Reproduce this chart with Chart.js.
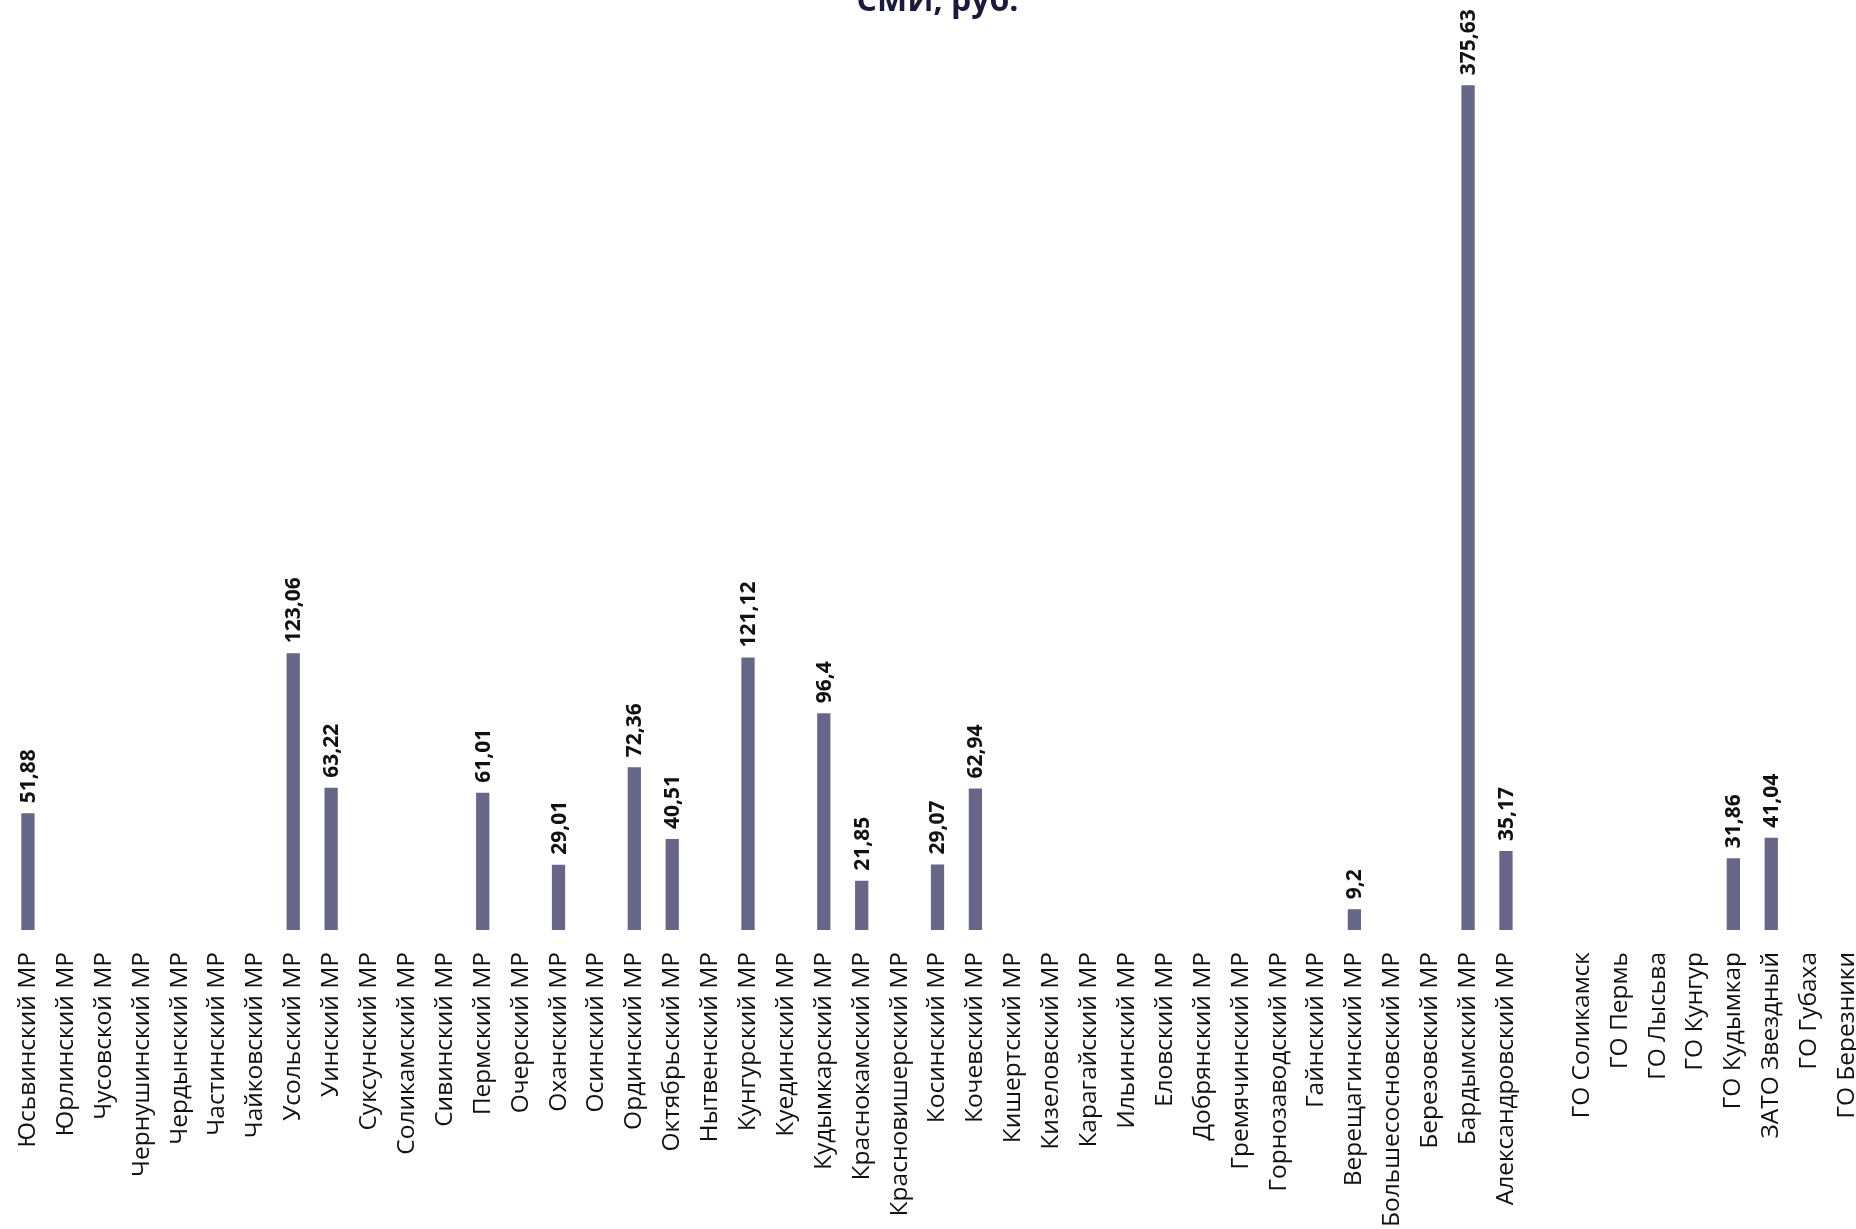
<!DOCTYPE html>
<html lang="ru">
<head>
<meta charset="utf-8">
<title>СМИ, руб.</title>
<script src="https://cdn.jsdelivr.net/npm/chart.js@4/dist/chart.umd.min.js"></script>
<style>
  html, body { margin: 0; padding: 0; background: #ffffff; overflow: hidden; }
  body { width: 1856px; height: 1229px; position: relative; }
  #wrap { position: absolute; left: 0; top: -30px; width: 1880px; height: 1274px; }
</style>
</head>
<body>
<div id="wrap"><canvas id="chart"></canvas></div>
<script>
const districts = [
  "Юсьвинский МР", "Юрлинский МР", "Чусовской МР", "Чернушинский МР",
  "Чердынский МР", "Частинский МР", "Чайковский МР", "Усольский МР",
  "Уинский МР", "Суксунский МР", "Соликамский МР", "Сивинский МР",
  "Пермский МР", "Очерский МР", "Оханский МР", "Осинский МР",
  "Ординский МР", "Октябрьский МР", "Нытвенский МР", "Кунгурский МР",
  "Куединский МР", "Кудымкарский МР", "Краснокамский МР", "Красновишерский МР",
  "Косинский МР", "Кочевский МР", "Кишертский МР", "Кизеловский МР",
  "Карагайский МР", "Ильинский МР", "Еловский МР", "Добрянский МР",
  "Гремячинский МР", "Горнозаводский МР", "Гайнский МР", "Верещагинский МР",
  "Большесосновский МР", "Березовский МР", "Бардымский МР", "Александровский МР",
  "",
  "ГО Соликамск", "ГО Пермь", "ГО Лысьва", "ГО Кунгур",
  "ГО Кудымкар", "ЗАТО Звездный", "ГО Губаха", "ГО Березники",
];

// руб., null = no bar
const costs = [
  51.88, null, null, null,
  null, null, null, 123.06,
  63.22, null, null, null,
  61.01, null, 29.01, null,
  72.36, 40.51, null, 121.12,
  null, 96.4, 21.85, null,
  29.07, 62.94, null, null,
  null, null, null, null,
  null, null, null, 9.2,
  null, null, 375.63, 35.17,
  null,
  null, null, null, null,
  31.86, 41.04, null, null,
];

const titleText = "СМИ, руб.";

const barLabels = {
  id: "barLabels",
  afterDatasetsDraw(chart) {
    const { ctx } = chart;
    const meta = chart.getDatasetMeta(0);
    ctx.save();
    ctx.font = "bold 21px 'Open Sans', sans-serif";
    ctx.fillStyle = "#111111";
    ctx.textAlign = "left";
    ctx.textBaseline = "middle";
    meta.data.forEach((bar, i) => {
      const value = costs[i];
      if (value === null) {
        return;
      }
      ctx.save();
      ctx.translate(bar.x, bar.y - 10);
      ctx.rotate(-Math.PI / 2);
      ctx.fillText(String(value).replace(".", ","), 0, 1);
      ctx.restore();
    });
    ctx.restore();
  },
};

new Chart(document.getElementById("chart"), {
  type: "bar",
  data: {
    labels: districts,
    datasets: [
      {
        data: costs,
        backgroundColor: "#676689",
        barPercentage: 0.35,
        categoryPercentage: 1,
      },
    ],
  },
  options: {
    animation: false,
    responsive: true,
    maintainAspectRatio: false,
    layout: {
      padding: { left: 9, right: 14, top: 13, bottom: 0 },
    },
    scales: {
      x: {
        grid: { display: false },
        border: { display: false },
        ticks: {
          color: "#111111",
          minRotation: 90,
          maxRotation: 90,
          autoSkip: false,
          padding: 14,
          font: { family: "'Open Sans', sans-serif", size: 24.5 },
        },
        // keep the bars edge to edge and the baseline where the picture has it
        afterFit(scale) {
          scale.paddingLeft = 0;
          scale.paddingRight = 0;
          scale.height = 314;
        },
      },
      y: {
        display: false,
        min: 0,
        max: 404,
      },
    },
    plugins: {
      legend: { display: false },
      tooltip: { enabled: false },
      title: {
        display: true,
        text: titleText,
        color: "#1c1a3c",
        padding: 0,
        font: { family: "'Open Sans', sans-serif", size: 32, weight: "bold", lineHeight: 1.2 },
      },
    },
  },
  plugins: [barLabels],
});
</script>
</body>
</html>
